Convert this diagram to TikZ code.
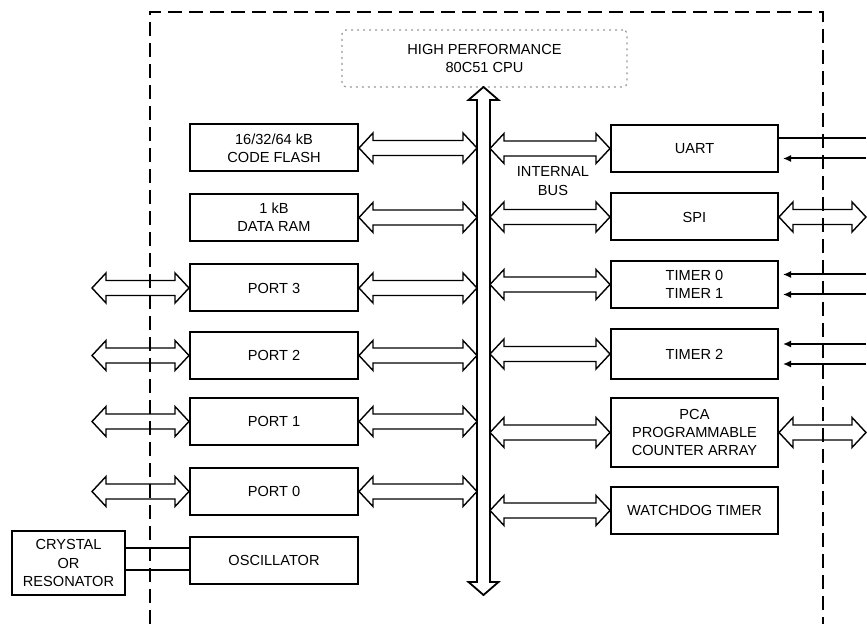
\documentclass[tikz,border=0pt]{standalone}
\usepackage{fontspec}
\setmainfont{Liberation Sans}
\usetikzlibrary{calc,arrows.meta}

\newcommand{\headlen}{14}
\newcommand{\headhalf}{15}
\newcommand{\shafthalf}{7.5}

% hollow double arrow between two points on one row
\newcommand{\hollowarrow}[2]{
\path (#1) coordinate (ha) (#2) coordinate (hb);
\draw[busline] (ha) -- ++(\headlen,-\headhalf) -- ++(0,\headhalf-\shafthalf)
  -- ($(hb)+(-\headlen,-\shafthalf)$) -- ++(0,-\headhalf+\shafthalf) -- (hb)
  -- ++(-\headlen,\headhalf) -- ++(0,-\headhalf+\shafthalf)
  -- ($(ha)+(\headlen,\shafthalf)$) -- ++(0,\headhalf-\shafthalf) -- cycle;
}

\begin{document}
\begin{tikzpicture}[
    x=0.5pt, y=-0.5pt,
    block/.style={
        draw,
        line width=1pt,
        minimum width=84pt,
        minimum height=23.5pt,
        inner sep=1pt,
        align=center,
        font=\fontsize{7.3}{9.2}\selectfont
    },
    busline/.style={line width=0.7pt, line join=miter},
    wire/.style={line width=1pt},
    dottip/.style={-{Latex[length=4pt,width=3.6pt]}, shorten >=2pt}
]
\useasboundingbox (0,0) rectangle (867,624);

% Chip boundary
\draw[line width=1pt, dash pattern=on 7pt off 3.5pt]
  (150,624) -- (150,12) -- (823,12) -- (823,624);

% CPU
\node[block, draw=black!40, dotted, line width=0.6pt, rounded corners=2pt,
      minimum width=142.5pt, minimum height=28.5pt] (cpu) at (484.5,58.5)
      {HIGH PERFORMANCE\\80C51 CPU};

% Internal bus
\coordinate (bustop) at (483.5,87);
\coordinate (busbot) at (483.5,595);
\coordinate (busL) at (477,0);
\coordinate (busR) at (490,0);
\draw[busline, line width=0.9pt] (bustop) -- ++(15,13) -- ++(-8.5,0)
  -- ($(busbot)+(6.5,-13)$) -- ++(8.5,0) -- (busbot) -- ++(-15,-13)
  -- ++(8.5,0) -- ($(bustop)+(-6.5,13)$) -- ++(-8.5,0) -- cycle;
\node[font=\fontsize{7.3}{9.2}\selectfont, align=center] (buslabel) at (553,181)
  {INTERNAL\\BUS};

% Left blocks
\node[block] (flash) at (274,148) {16/32/64 kB\\CODE FLASH};
\node[block] (ram) at (274,217.5) {1 kB\\DATA RAM};
\node[block] (port3) at (274,288) {PORT 3};
\node[block] (port2) at (274,355.5) {PORT 2};
\node[block] (port1) at (274,421.5) {PORT 1};
\node[block] (port0) at (274,491.5) {PORT 0};
\node[block] (osc) at (274,560.5) {OSCILLATOR};
\node[block, minimum width=56.5pt, minimum height=32pt] (crystal) at (68.5,563)
  {CRYSTAL\\OR\\RESONATOR};

% Right blocks
\node[block, minimum width=83.5pt] (uart) at (694.5,148.5) {UART};
\node[block, minimum width=83.5pt] (spi) at (694.5,217) {SPI};
\node[block, minimum width=83.5pt] (timer01) at (694.5,284.5) {TIMER 0\\TIMER 1};
\node[block, minimum width=83.5pt, minimum height=25pt] (timer2) at (694.5,354) {TIMER 2};
\node[block, minimum width=83.5pt, minimum height=34.5pt] (pca) at (694.5,432.5)
  {PCA\\PROGRAMMABLE\\COUNTER ARRAY};
\node[block, minimum width=83.5pt] (wdt) at (694.5,510.5) {WATCHDOG TIMER};

% Bus connections
\foreach \blk in {flash,ram,port3,port2,port1,port0}
  \hollowarrow{\blk.east}{busL |- \blk.east};
\foreach \blk in {uart,spi,timer01,timer2,pca,wdt}
  \hollowarrow{busR |- \blk.west}{\blk.west};

% External pins
\coordinate (extL) at (92,0);
\coordinate (extR) at (866,0);
\foreach \blk in {port3,port2,port1,port0}
  \hollowarrow{extL |- \blk.west}{\blk.west};
\hollowarrow{spi.east}{extR |- spi.east};
\hollowarrow{pca.east}{extR |- pca.east};

\draw[wire] ($(uart.east)+(0,-10)$) -- ($(extR |- uart.east)+(0,-10)$);
\draw[wire, dottip] ($(extR |- uart.east)+(0,10)$) -- ($(uart.east)+(0,10)$);
\foreach \blk in {timer01,timer2}
  \foreach \off in {-10,10}
    \draw[wire, dottip] ($(extR |- \blk.east)+(0,\off)$) -- ($(\blk.east)+(0,\off)$);

% Clock
\foreach \off in {-12.5,9.5}
  \draw[wire] ($(osc.west)+(0,\off)$) -- ($(crystal.east |- osc.west)+(0,\off)$);

\end{tikzpicture}
\end{document}
